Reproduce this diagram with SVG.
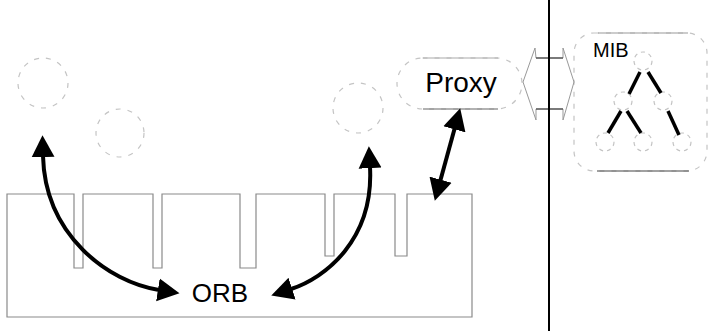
<svg xmlns="http://www.w3.org/2000/svg" width="709" height="331" viewBox="0 0 709 331">
<style>
.faint{fill:none;stroke:#c4c4c4;stroke-width:1.2;stroke-dasharray:5 7}
.box{fill:none;stroke:#8a8a8a;stroke-width:1.2}
.edge{stroke:#000;stroke-width:3.5;stroke-linecap:butt}
.arrow{fill:none;stroke:#000;stroke-width:4}
.lbl{font-family:"Liberation Sans",Arial,sans-serif;fill:#000}
</style>
<defs>
<marker id="ah" markerUnits="userSpaceOnUse" markerWidth="24" markerHeight="24" viewBox="0 -11 22 22" refX="1" refY="0" orient="auto-start-reverse">
<path d="M0,-10.5 L20,0 L0,10.5 Z" fill="#000"/>
</marker>
</defs>
<rect width="709" height="331" fill="#fff"/>

<g id="orb">
<path class="box" d="M7,194 H74 V268 H83 V194 H153 V268 H162 V194 H240 V268 H256 V194 H325 V256 H334 V194 H395 V256 H407 V194 H472 V317 H7 Z"/>
<text class="lbl" x="220" y="302" font-size="26" text-anchor="middle">ORB</text>
</g>

<g id="obj1"><circle class="faint" cx="43" cy="83" r="25"/></g>
<g id="obj2"><circle class="faint" cx="120" cy="133" r="24"/></g>
<g id="obj3"><circle class="faint" cx="358" cy="108" r="25"/></g>

<g id="proxy">
<rect class="faint" x="397" y="58" width="125" height="51" rx="25.5"/>
<line x1="423" y1="58" x2="498" y2="58" stroke="#aaa" stroke-width="1.2"/>
<line x1="423" y1="109" x2="498" y2="109" stroke="#666" stroke-width="1.2"/>
<text class="lbl" x="461" y="92" font-size="28" text-anchor="middle">Proxy</text>
</g>

<g id="mib">
<rect class="faint" x="574" y="33" width="133" height="138" rx="20"/>
<line x1="598" y1="33" x2="688" y2="33" stroke="#999" stroke-width="1.2"/>
<line x1="597" y1="171" x2="689" y2="171" stroke="#444" stroke-width="1.2"/>
<text class="lbl" x="593" y="57" font-size="20">MIB</text>
<g class="faint" style="stroke-dasharray:4 4">
<circle cx="643" cy="61" r="9"/>
<circle cx="623" cy="101" r="9"/>
<circle cx="663" cy="101" r="9"/>
<circle cx="605" cy="142" r="9"/>
<circle cx="643" cy="142" r="9"/>
<circle cx="682" cy="142" r="9"/>
</g>
<line class="edge" x1="640" y1="72" x2="629" y2="94"/>
<line class="edge" x1="648" y1="72" x2="661" y2="93"/>
<line class="edge" x1="621" y1="111" x2="608" y2="133"/>
<line class="edge" x1="627" y1="111" x2="641" y2="133"/>
<line class="edge" x1="668" y1="111" x2="679" y2="135"/>
</g>

<g id="link">
<path d="M523,82 L535,48 L536,58 L563,58 L563,48 L574,82 L563,120 L563,109 L536,109 L536,120 Z" fill="none" stroke="#999" stroke-width="1"/>
<line x1="536" y1="58" x2="563" y2="58" stroke="#444" stroke-width="1.2"/>
<line x1="536" y1="109" x2="563" y2="109" stroke="#444" stroke-width="1.2"/>
</g>

<g id="boundary">
<line x1="549" y1="0" x2="549" y2="331" stroke="#000" stroke-width="2"/>
</g>

<g id="connectors">
<path class="arrow" d="M43,156 C45,235 108,282 159,290" marker-start="url(#ah)" marker-end="url(#ah)"/>
<path class="arrow" d="M370,167 C374,240 325,278 291,289" marker-start="url(#ah)" marker-end="url(#ah)"/>
<path class="arrow" d="M440.3,180.7 L454.7,128.3" marker-start="url(#ah)" marker-end="url(#ah)"/>
</g>
</svg>
